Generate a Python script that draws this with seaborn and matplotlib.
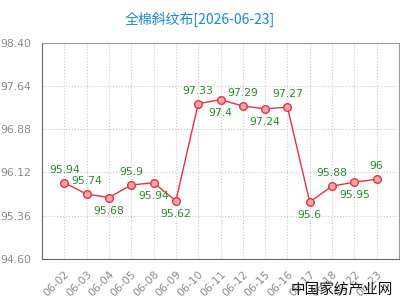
import matplotlib
matplotlib.use("Agg")
import matplotlib.pyplot as plt
import seaborn as sns
import pandas as pd

# === DATA ===
dates = ["06-02", "06-03", "06-04", "06-05", "06-08", "06-09", "06-10", "06-11",
         "06-12", "06-15", "06-16", "06-17", "06-18", "06-22", "06-23"]
prices = [95.94, 95.74, 95.68, 95.9, 95.94, 95.62, 97.33, 97.4,
          97.29, 97.24, 97.27, 95.6, 95.88, 95.95, 96]
price_labels = ["95.94", "95.74", "95.68", "95.9", "95.94", "95.62", "97.33", "97.4",
                "97.29", "97.24", "97.27", "95.6", "95.88", "95.95", "96"]
yticks = [94.60, 95.36, 96.12, 96.88, 97.64, 98.40]
title = "全棉斜纹布[2026-06-23]"
watermark = "中国家纺产业网"

# label placement: +1 above the point, -1 below
label_side = [1, 1, -1, 1, -1, -1, 1, -1, 1, -1, 1, -1, 1, -1, 1]

sns.set_style("white")
plt.rcParams['font.family'] = ['Noto Sans CJK SC', 'DejaVu Sans']

df = pd.DataFrame({"date": dates, "price": prices})
df["idx"] = range(len(df))

fig = plt.figure(figsize=(4, 3), dpi=100)
ax = fig.add_axes([0.105, 0.137, 0.8925, 0.72])

sns.lineplot(data=df, x="idx", y="price", ax=ax, color="#e8303c", linewidth=1.0,
             marker="o", markersize=5.5, markerfacecolor="#f7a6ae",
             markeredgecolor="#e8303c", markeredgewidth=1.0)

for i, (v, s, side) in enumerate(zip(prices, price_labels, label_side)):
    ax.annotate(s, (i, v), xytext=(0, 9.5 * side), textcoords="offset points",
                ha="center", va="center", fontsize=7.8, color="#2e8b2e",
                family="DejaVu Sans")

ax.set_xlim(-1, len(dates))
ax.set_ylim(yticks[0], yticks[-1])
ax.set_yticks(yticks)
ax.set_yticklabels([f"{t:.2f}" for t in yticks])
ax.set_xticks(range(len(dates)))
ax.set_xticklabels(dates, rotation=45, ha="right", rotation_mode="anchor")
ax.tick_params(axis="both", labelsize=7.8, colors="#8a8a8a", length=4, width=0.8)
for lab in ax.get_xticklabels() + ax.get_yticklabels():
    lab.set_family("DejaVu Sans")
ax.set_xlabel("")
ax.set_ylabel("")

ax.grid(True, linestyle=":", color="#c8c8c8", linewidth=0.8)
for sp in ax.spines.values():
    sp.set_color("#999999")
    sp.set_linewidth(0.8)
ax.spines["left"].set_color("#666666")
ax.spines["bottom"].set_color("#666666")

fig.text(0.5, 0.935, title, ha="center", va="center", fontsize=10, color="#1e88d0")
fig.text(0.982, 0.035, watermark, ha="right", va="center", fontsize=10.5, color="#111111")

fig.savefig("out.png", dpi=100)
